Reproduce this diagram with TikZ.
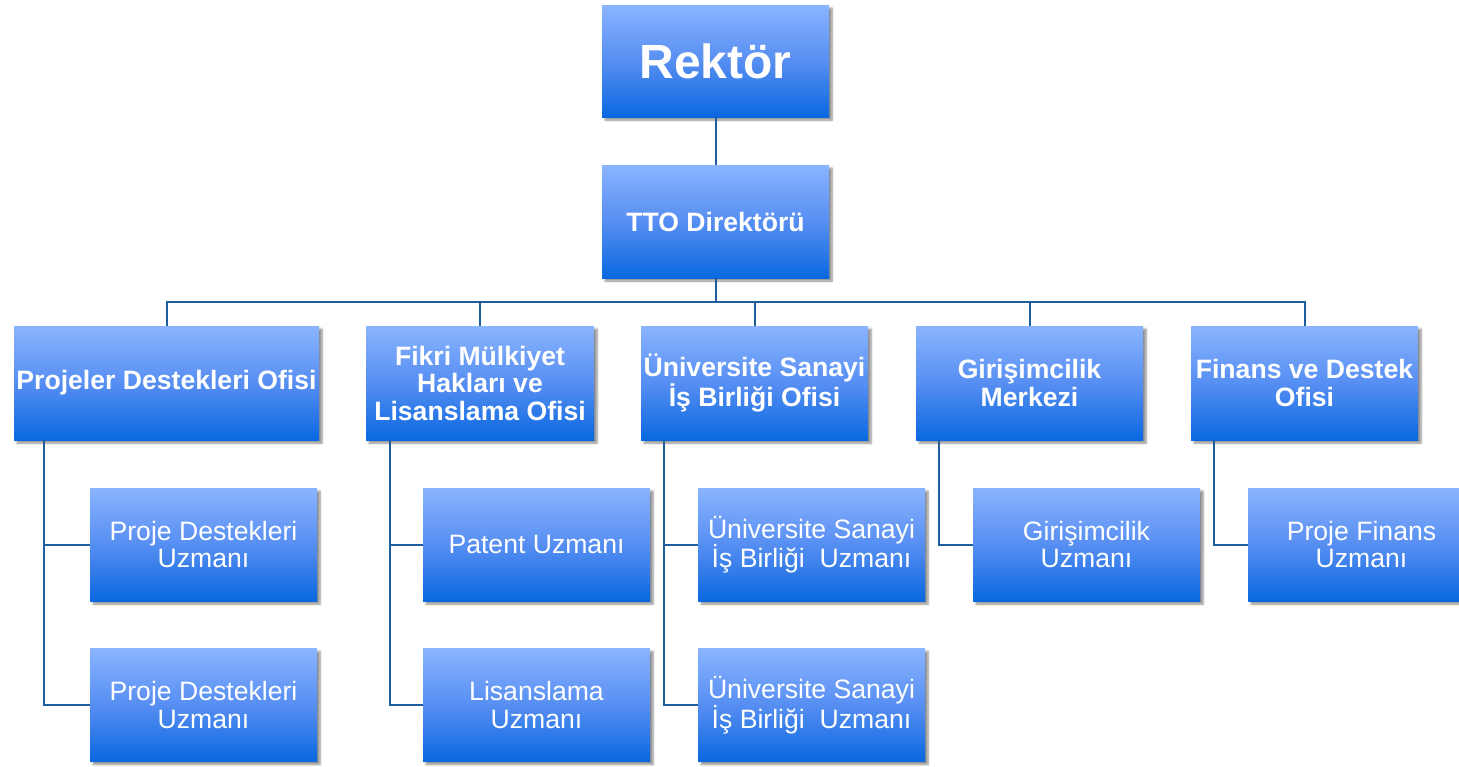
\documentclass[tikz,border=0pt]{standalone}
\usepackage{fontspec}
\setmainfont{Liberation Sans}
\usetikzlibrary{shadows.blur,calc}
\definecolor{boxtop}{RGB}{138,180,255}
\definecolor{boxmid}{RGB}{86,142,242}
\definecolor{boxbot}{RGB}{10,104,224}
\definecolor{linecol}{RGB}{30,92,158}
\tikzset{
  orgbox/.style={rectangle, inner sep=2pt, text=white, align=center,
    top color=boxtop, bottom color=boxbot, middle color=boxmid,
    blur shadow={shadow xshift=3pt, shadow yshift=-3pt, shadow blur steps=6, shadow opacity=45},
    font=\fontsize{26.6}{27.5}\selectfont},
  headbox/.style={orgbox, font=\fontsize{26.6}{27.5}\selectfont\bfseries},
  staffbox/.style={orgbox, minimum width=227pt, minimum height=113pt},
  conn/.style={draw=linecol, line width=2pt}
}
\begin{document}
\begin{tikzpicture}[x=1pt,y=-1pt]
\useasboundingbox (0,0) rectangle (1459,766);
% top
\node[headbox, minimum width=227pt, minimum height=112pt, font=\fontsize{48}{50}\selectfont\bfseries] (rek) at (715.5,61) {Rektör};
\node[headbox, minimum width=227pt, minimum height=113pt] (tto) at (715.5,221.5) {TTO Direktörü};
% level 2
\node[headbox, minimum width=305pt, minimum height=114pt] (pdo) at (166.5,383) {Projeler Destekleri Ofisi};
\node[headbox, minimum width=228pt, minimum height=114pt] (fmh) at (480,383) {Fikri Mülkiyet\\Hakları ve\\Lisanslama Ofisi};
\node[headbox, minimum width=227pt, minimum height=114pt] (usi) at (754.5,383) {Üniversite Sanayi\\İş Birliği Ofisi};
\node[headbox, minimum width=227pt, minimum height=114pt] (gm) at (1029.5,383) {Girişimcilik\\Merkezi};
\node[headbox, minimum width=227pt, minimum height=114pt] (fdo) at (1304.5,383) {Finans ve Destek\\Ofisi};
% level 3
\node[staffbox] (pd1) at (203.5,544.5) {Proje Destekleri\\Uzmanı};
\node[staffbox] (pd2) at (203.5,705) {Proje Destekleri\\Uzmanı};
\node[staffbox] (pat) at (536.5,544.5) {Patent Uzmanı};
\node[staffbox] (lis) at (536.5,705) {Lisanslama\\Uzmanı};
\node[staffbox] (us1) at (811.5,544.5) {Üniversite Sanayi\\İş Birliği\ \ Uzmanı};
\node[staffbox] (us2) at (811.5,705) {Üniversite Sanayi\\İş Birliği\ \ Uzmanı};
\node[staffbox] (gu) at (1086.5,544.5) {Girişimcilik\\Uzmanı};
\node[staffbox] (pfu) at (1361.5,544.5) {Proje Finans\\Uzmanı};
% connectors
\draw[conn] (rek.south) -- (tto.north);
\foreach \n in {pdo,fmh,usi,gm,fdo}
  \draw[conn] (tto.south) -- ++(0,24) -| (\n.north);
\draw[conn] ($(pdo.south west)+(30,0)$) |- (pd1.west);
\draw[conn] ($(pdo.south west)+(30,0)$) |- (pd2.west);
\draw[conn] ($(fmh.south west)+(24,0)$) |- (pat.west);
\draw[conn] ($(fmh.south west)+(24,0)$) |- (lis.west);
\draw[conn] ($(usi.south west)+(23,0)$) |- (us1.west);
\draw[conn] ($(usi.south west)+(23,0)$) |- (us2.west);
\draw[conn] ($(gm.south west)+(23,0)$) |- (gu.west);
\draw[conn] ($(fdo.south west)+(23,0)$) |- (pfu.west);
\end{tikzpicture}
\end{document}
